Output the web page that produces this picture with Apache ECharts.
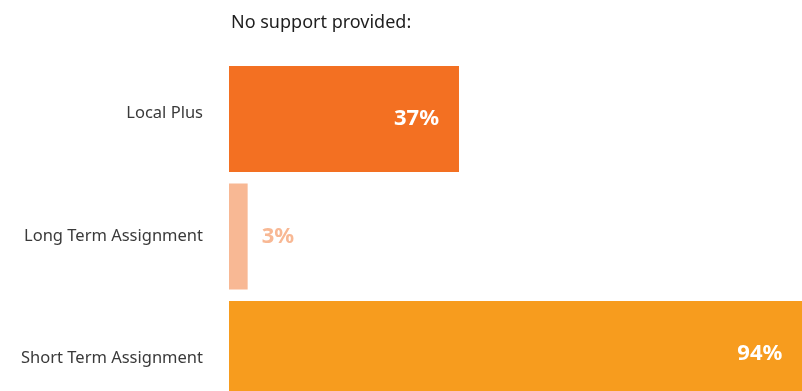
<!DOCTYPE html>
<html>
<head>
<meta charset="utf-8">
<script src="https://cdn.jsdelivr.net/npm/echarts@6/dist/echarts.min.js"></script>
<style>
  html, body { margin: 0; padding: 0; background: #fff; }
  #chart { width: 802px; height: 391px; }
</style>
</head>
<body>
<div id="chart"></div>
<script>
// Share of respondents with no support provided, per assignment type
const categories = ['Local Plus', 'Long Term Assignment', 'Short Term Assignment'];
const values = [37, 3, 94];
const barColors = ['#F37022', '#F8B894', '#F79C1E'];

const chart = echarts.init(document.getElementById('chart'));

const labelStyles = [
  { show: true, position: 'insideRight', distance: 20, color: '#fff', fontWeight: 'bold', fontSize: 22 },
  { show: true, position: 'right', distance: 14, color: '#F8B894', fontWeight: 'bold', fontSize: 22 },
  { show: true, position: 'insideRight', distance: 31, color: '#fff', fontWeight: 'bold', fontSize: 22 }
];

// category name styles, with small vertical nudges
const nameStyle = { fontSize: 16.5, color: '#3a3a3a', fontFamily: 'Noto Sans' };
const rich = {
  c0: Object.assign({ padding: [0, 0, 12, 0] }, nameStyle),
  c1: Object.assign({ padding: [0, 0, 0, 0] }, nameStyle),
  c2: Object.assign({ padding: [8, 0, 0, 0] }, nameStyle)
};

chart.setOption({
  animation: false,
  textStyle: { fontFamily: 'Noto Sans' },
  title: {
    text: 'No support provided:',
    left: 226,
    top: 9,
    textStyle: { fontSize: 18, fontWeight: 'normal', color: '#1e1e1e', fontFamily: 'Noto Sans' }
  },
  // plot area runs past the right and bottom edges of the canvas
  grid: { left: 229, top: 60.25, width: 621.6, height: 352.5, outerBoundsMode: 'none', containLabel: false },
  xAxis: {
    type: 'value',
    min: 0,
    max: 100,
    show: false
  },
  yAxis: {
    type: 'category',
    inverse: true,
    data: categories,
    axisLine: { show: false },
    axisTick: { show: false },
    axisLabel: {
      margin: 26,
      fontSize: 16.5,
      color: '#3a3a3a',
      fontFamily: 'Noto Sans',
      formatter: (v, i) => '{c' + i + '|' + v + '}',
      rich: rich
    }
  },
  series: [{
    type: 'bar',
    barWidth: 106,
    data: values.map((v, i) => ({
      value: v,
      itemStyle: { color: barColors[i] },
      label: labelStyles[i]
    })),
    label: { formatter: '{c}%', fontFamily: 'Noto Sans' }
  }]
});
</script>
</body>
</html>
